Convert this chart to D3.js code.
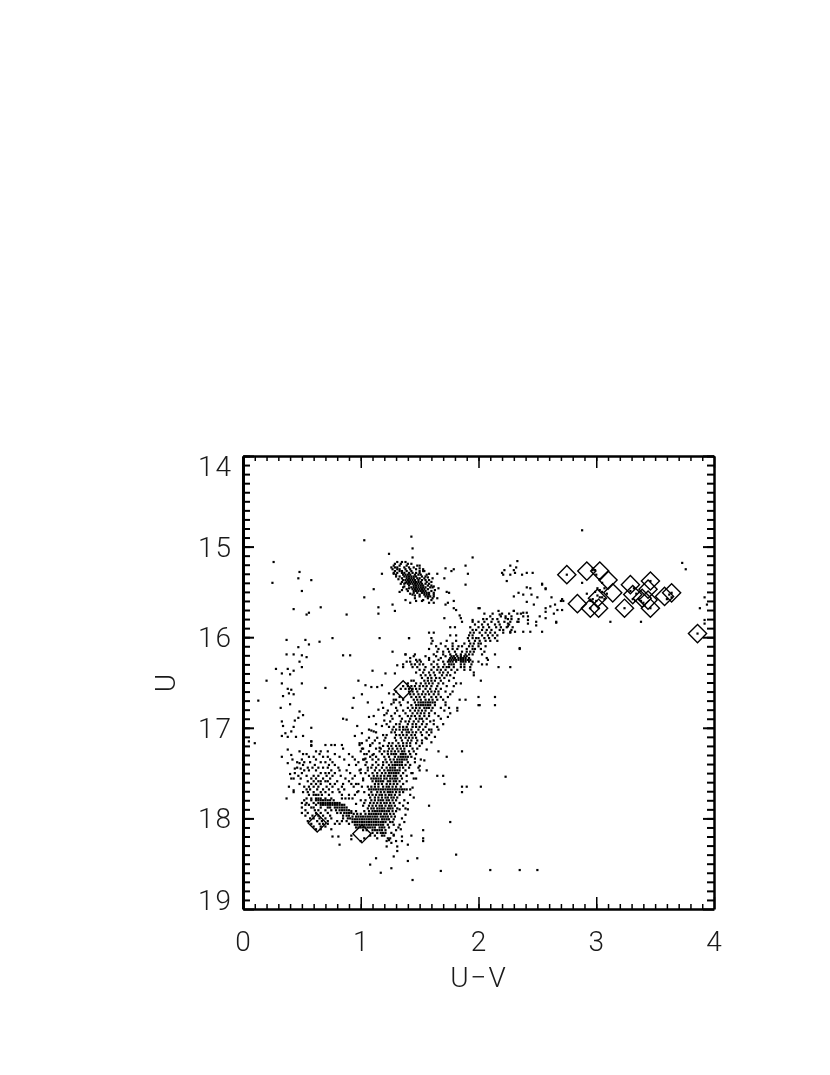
<!DOCTYPE html>
<html>
<head>
<meta charset="utf-8">
<script src="https://cdn.jsdelivr.net/npm/d3@7"></script>
<style>
  html, body { margin: 0; background: #fff; }
  svg { display: block; filter: blur(0.35px); }
  text { font-family: Roboto, sans-serif; font-weight: 300; fill: #1a1a1a; }
</style>
</head>
<body>
<div id="chart"></div>
<script>
// tick values
const xMajor = [0, 1, 2, 3, 4];
const yMajor = [14, 15, 16, 17, 18, 19];

// rows: first number is U, the rest are the U-V colours of the stars on that row
const clumpRows = [
  [15.17,1.31,1.35,1.38],
  [15.19,1.29,1.34,1.40,1.43],
  [15.21,1.28,1.33,1.39,1.48,1.50],
  [15.23,1.26,1.29,1.31,1.37,1.41,1.45],
  [15.25,1.27,1.31,1.33,1.38,1.42,1.47],
  [15.27,1.29,1.33,1.35,1.39,1.43,1.50,1.53],
  [15.29,1.28,1.31,1.35,1.37,1.41,1.44,1.47,1.50],
  [15.31,1.30,1.36,1.38,1.40,1.42,1.46,1.49,1.51],
  [15.33,1.33,1.37,1.39,1.41,1.43,1.45,1.47,1.52],
  [15.35,1.35,1.39,1.41,1.43,1.45,1.48,1.50,1.54],
  [15.37,1.36,1.38,1.40,1.42,1.44,1.46,1.49,1.52,1.55],
  [15.39,1.35,1.39,1.41,1.43,1.45,1.47,1.49,1.51,1.56],
  [15.41,1.37,1.40,1.42,1.44,1.46,1.48,1.50,1.52,1.55,1.58],
  [15.43,1.41,1.45,1.47,1.49,1.51,1.53,1.57,1.60],
  [15.45,1.36,1.43,1.45,1.47,1.49,1.51,1.53,1.55,1.59,1.61],
  [15.47,1.44,1.46,1.48,1.50,1.52,1.54,1.57],
  [15.49,1.40,1.45,1.47,1.49,1.51,1.53,1.55,1.60],
  [15.51,1.45,1.48,1.52,1.54,1.56,1.58],
  [15.53,1.44,1.50,1.54,1.56,1.58,1.62],
  [15.55,1.50,1.55,1.57,1.59,1.62],
  [15.57,1.46,1.57,1.61],
  [15.59,1.38,1.53,1.60],
  [15.62,1.42,1.58,1.62]
];

// edges of the clump, away from the densest ridge, as [U-V, U]
const clumpEdgeStars = [
  [1.50,15.24],[1.54,15.27],[1.56,15.31],[1.57,15.34],[1.58,15.37],[1.60,15.39],[1.62,15.44],[1.63,15.48],
  [1.62,15.51],[1.53,15.25],[1.55,15.33],[1.32,15.36],[1.34,15.41],[1.37,15.44],[1.39,15.47],[1.42,15.52],
  [1.46,15.54],[1.30,15.33],[1.41,15.46],[1.38,15.40],[1.58,15.30],[1.35,15.48],[1.28,15.30],[1.61,15.35],
  [1.66,15.46],[1.52,15.60],[1.47,15.60],[1.33,15.50]
];

const giantRows = [
  [15.68,2.01],
  [15.71,2.17,2.30],
  [15.74,2.05,2.12,2.20,2.26,2.33,2.36],
  [15.77,2.10,2.19,2.23,2.28,2.38],
  [15.80,2.04,2.07,2.12,2.16,2.25,2.28,2.34],
  [15.83,1.86,1.95,2.00,2.05,2.11,2.17,2.22,2.27,2.33],
  [15.86,1.97,2.03,2.08,2.14,2.18,2.26],
  [15.89,1.76,1.80,1.93,2.00,2.04,2.09,2.15,2.19,2.24,2.29],
  [15.92,1.95,1.98,2.03,2.07,2.11,2.18,2.21,2.28],
  [15.95,1.58,1.62,1.93,1.96,2.01,2.06,2.10,2.14,2.21,2.27],
  [15.98,1.76,1.81,1.92,1.95,2.03,2.08,2.12,2.16],
  [16.01,1.41,1.60,1.91,1.95,1.98,2.00,2.05,2.09,2.14],
  [16.04,1.61,1.73,1.81,1.92,1.97,2.01,2.06,2.10,2.16],
  [16.07,1.60,1.68,1.78,1.88,1.93,1.96,2.00,2.02],
  [16.10,1.64,1.72,1.78,1.83,1.86,1.92,1.95,2.00,2.06],
  [16.13,1.58,1.66,1.74,1.78,1.82,1.90,1.95,1.97,2.02,2.35],
  [16.16,1.65,1.70,1.75,1.80,1.86,1.90,1.93,1.96,2.05],
  [16.19,1.38,1.46,1.62,1.70,1.76,1.81,1.85,1.89,1.92,1.95,2.03,2.14],
  [16.21,1.45,1.55,1.64,1.72,1.77,1.79,1.82,1.85,1.88,1.90],
  [16.23,1.42,1.58,1.68,1.76,1.78,1.80,1.83,1.85,1.87,1.89,1.92,2.07],
  [16.25,1.47,1.50,1.58,1.66,1.75,1.77,1.79,1.81,1.83,1.85,1.87,1.89,1.91,1.93,2.08],
  [16.27,1.39,1.42,1.48,1.51,1.62,1.70,1.74,1.76,1.78,1.81,1.85,1.87,1.89,1.92,1.95,2.00],
  [16.30,1.36,1.43,1.46,1.50,1.53,1.60,1.65,1.71,1.75,1.77,1.79,1.85,1.88,1.94,2.03,2.07],
  [16.33,1.44,1.48,1.55,1.62,1.66,1.70,1.73,1.75,1.79,1.85,1.88,1.93,2.17,2.27],
  [16.36,1.50,1.54,1.60,1.65,1.68,1.72,1.77,1.82,1.88,1.93],
  [16.39,1.47,1.53,1.58,1.62,1.67,1.70,1.74,1.80,1.96],
  [16.42,1.51,1.55,1.59,1.63,1.69,1.73,1.76,1.96],
  [16.45,1.52,1.57,1.60,1.64,1.67,1.71,1.79],
  [16.48,1.43,1.45,1.54,1.57,1.60,1.63,1.68,1.75,2.02],
  [16.51,1.40,1.47,1.51,1.55,1.58,1.61,1.66,1.70,1.81,1.85],
  [16.54,1.36,1.40,1.43,1.46,1.50,1.53,1.56,1.60,1.65,1.73,1.79],
  [16.57,1.34,1.38,1.41,1.44,1.47,1.50,1.55,1.59,1.64,1.68]
];

const turnoffRows = [
  [16.60,1.30,1.41,1.44,1.48,1.53,1.57,1.60,1.63,1.66,1.72],
  [16.63,1.28,1.42,1.45,1.49,1.52,1.55,1.58,1.62,1.66,1.76],
  [16.66,1.33,1.43,1.47,1.50,1.54,1.60,1.64,1.68,1.74,2.00,2.14],
  [16.69,1.30,1.36,1.45,1.48,1.51,1.55,1.58,1.61,1.65,1.70,1.84,1.89],
  [16.72,1.28,1.33,1.40,1.46,1.49,1.51,1.53,1.55,1.57,1.59,1.61,1.63],
  [16.75,1.34,1.43,1.47,1.49,1.51,1.53,1.55,1.57,1.59,1.63,1.72,2.00,2.01,2.14],
  [16.78,1.30,1.40,1.44,1.47,1.50,1.54,1.56,1.58,1.61,1.68,1.75,1.82],
  [16.81,1.23,1.31,1.36,1.42,1.46,1.49,1.52,1.55,1.60,1.71,1.82],
  [16.84,1.22,1.29,1.38,1.44,1.48,1.51,1.54,1.58,1.76],
  [16.87,1.26,1.33,1.40,1.43,1.46,1.50,1.54,1.58,1.66],
  [16.90,1.27,1.35,1.42,1.47,1.50,1.52,1.56],
  [16.93,1.25,1.34,1.38,1.41,1.45,1.49,1.53,1.59],
  [16.96,1.22,1.30,1.33,1.40,1.44,1.47,1.52,1.56,1.62],
  [16.99,1.24,1.28,1.33,1.36,1.39,1.44,1.47,1.50,1.55,1.65],
  [17.02,1.27,1.30,1.33,1.36,1.38,1.40,1.43,1.49,1.53,1.60,1.66],
  [17.05,1.13,1.26,1.29,1.35,1.39,1.41,1.44,1.47,1.51,1.56,1.60],
  [17.08,1.19,1.30,1.33,1.36,1.39,1.43,1.46,1.52,1.58],
  [17.11,1.07,1.14,1.21,1.29,1.34,1.38,1.41,1.44,1.47,1.55],
  [17.14,1.05,1.12,1.20,1.30,1.35,1.40,1.43,1.48,1.52],
  [17.17,1.01,1.10,1.16,1.24,1.27,1.32,1.36,1.39,1.42,1.47,1.52],
  [17.20,1.08,1.19,1.23,1.26,1.30,1.33,1.36,1.39,1.42,1.50],
  [17.23,1.13,1.17,1.24,1.27,1.31,1.34,1.37,1.44,1.48],
  [17.26,1.00,1.07,1.16,1.20,1.23,1.26,1.29,1.32,1.35,1.37,1.41,1.45,1.66,1.86],
  [17.29,1.03,1.11,1.18,1.23,1.26,1.28,1.30,1.34,1.36,1.38,1.42,1.47],
  [17.32,1.08,1.13,1.20,1.24,1.29,1.32,1.34,1.36,1.38,1.40,1.43,1.73],
  [17.35,1.02,1.10,1.15,1.21,1.25,1.28,1.31,1.33,1.35,1.37,1.39,1.51],
  [17.38,1.05,1.13,1.19,1.22,1.26,1.29,1.31,1.33,1.35,1.40,1.46],
  [17.41,1.10,1.15,1.19,1.24,1.27,1.29,1.31,1.33,1.35,1.38,1.42],
  [17.44,1.09,1.13,1.18,1.22,1.25,1.27,1.29,1.33,1.36,1.41,1.49],
  [17.47,1.06,1.12,1.16,1.20,1.23,1.25,1.27,1.29,1.31,1.33,1.38,1.50,1.56],
  [17.50,1.04,1.10,1.14,1.18,1.21,1.24,1.26,1.28,1.30,1.32,1.36,1.44],
  [17.53,1.07,1.11,1.14,1.17,1.20,1.23,1.25,1.28,1.30,1.34,1.39,1.65,1.70],
  [17.56,1.09,1.11,1.13,1.15,1.17,1.20,1.22,1.25,1.27,1.29,1.31,1.35,1.45],
  [17.59,1.10,1.13,1.15,1.17,1.19,1.23,1.25,1.28,1.30,1.33,1.39],
  [17.62,1.12,1.15,1.18,1.22,1.25,1.28,1.31,1.36,1.71],
  [17.65,1.06,1.09,1.12,1.15,1.19,1.22,1.24,1.27,1.30,1.34,1.86],
  [17.68,1.07,1.09,1.11,1.13,1.15,1.17,1.19,1.21,1.23,1.25,1.27,1.29,1.31,1.33,1.35,1.37,1.39,1.42],
  [17.71,1.03,1.09,1.14,1.17,1.20,1.23,1.25,1.27,1.30,1.33,1.36,1.86],
  [17.74,1.07,1.10,1.13,1.16,1.18,1.21,1.24,1.26,1.29,1.33],
  [17.77,1.08,1.12,1.15,1.18,1.21,1.23,1.26,1.28,1.31,1.45],
  [17.80,1.00,1.04,1.09,1.12,1.15,1.17,1.19,1.22,1.24,1.27,1.30,1.37],
  [17.83,1.03,1.08,1.11,1.14,1.17,1.20,1.22,1.25,1.28,1.33,1.40],
  [17.86,1.02,1.07,1.10,1.13,1.16,1.18,1.21,1.24,1.26,1.29,1.58],
  [17.89,1.06,1.09,1.11,1.14,1.16,1.18,1.20,1.23,1.25,1.27,1.31,1.38],
  [17.92,0.92,0.96,1.03,1.07,1.10,1.12,1.14,1.16,1.18,1.20,1.22,1.24,1.27,1.30],
  [17.95,0.94,0.97,1.00,1.04,1.07,1.09,1.11,1.13,1.15,1.17,1.20,1.22,1.25,1.28],
  [17.98,0.93,0.96,0.98,1.00,1.02,1.04,1.06,1.08,1.10,1.12,1.14,1.17,1.19,1.21,1.23,1.26,1.29],
  [18.01,0.93,0.95,0.97,0.99,1.01,1.03,1.05,1.07,1.09,1.11,1.13,1.15,1.18,1.20,1.22,1.24,1.28],
  [18.04,0.93,0.95,0.97,0.99,1.01,1.03,1.05,1.07,1.09,1.11,1.13,1.15,1.17,1.19,1.21,1.25,1.27,1.37,1.76],
  [18.07,0.95,0.97,0.99,1.01,1.03,1.05,1.07,1.09,1.11,1.13,1.15,1.17,1.19,1.23,1.28,1.33],
  [18.10,0.96,0.98,1.00,1.02,1.04,1.06,1.08,1.10,1.12,1.16,1.18,1.20,1.24,1.32],
  [18.13,1.02,1.05,1.10,1.12,1.14,1.16,1.18,1.21,1.30,1.53],
  [18.16,1.10,1.14,1.17,1.19,1.21,1.26],
  [18.19,0.92,1.08,1.12,1.18,1.20,1.28,1.43],
  [18.22,1.03,1.14,1.23,1.25,1.53],
  [18.25,1.00,1.22,1.30,1.35]
];

// loose stars either side of the turnoff, as [U-V, U]
const turnoffEdgeStars = [
  [1.24,16.62],[1.26,16.74],[1.20,16.92],[1.18,16.98],[1.22,17.08],[1.16,17.22],[1.10,17.30],[1.06,17.44],
  [1.02,17.58],[0.98,17.70],[0.96,17.84],[1.18,16.72],[1.15,16.80],[1.13,16.96],[1.09,17.03],[1.04,17.34],
  [1.00,17.46],[0.96,17.62],[1.68,16.90],[1.70,16.96],[1.63,17.10],[1.60,17.16],[1.56,17.24],[1.54,17.36],
  [1.50,17.42],[1.47,17.56],[1.44,17.66],[1.42,17.74],[1.40,17.90],[1.38,17.96],[1.35,18.00],[1.33,17.90],
  [1.72,16.72],[1.78,16.60],[1.74,16.88],[1.63,16.84],[1.62,16.92],[1.58,17.02],[1.56,17.12],[1.46,17.34],
  [1.43,17.50],[1.36,17.86],[1.34,18.12],[1.28,18.18],[1.35,18.20]
];

const lowerMsRows = [
  [17.15,0.58],
  [17.19,0.58,0.70,0.75,0.78,0.84,0.99,1.08],
  [17.23,0.85,1.01],
  [17.26,0.48,0.62,0.66,0.72],
  [17.29,0.51,0.54,0.65,0.78,0.90,1.05],
  [17.32,0.56,0.60,0.68,0.72,0.82,0.93],
  [17.35,0.42,0.50,0.62,0.74,0.86,0.95,1.03],
  [17.38,0.46,0.52,0.57,0.66,0.70,0.76,0.98],
  [17.41,0.51,0.61,0.73,0.78,0.90,0.96,1.04],
  [17.44,0.46,0.55,0.59,0.64,0.68,0.72,0.81],
  [17.47,0.52,0.56,0.62,0.75,0.82,0.88,0.99],
  [17.50,0.44,0.50,0.66,0.70,0.73,0.78,0.91,1.00],
  [17.53,0.47,0.54,0.60,0.64,0.71,0.76,0.83,0.95],
  [17.56,0.41,0.49,0.58,0.62,0.68,0.74,0.87,0.93,1.02],
  [17.59,0.55,0.60,0.64,0.66,0.70,0.72,0.80,0.90],
  [17.62,0.48,0.58,0.62,0.66,0.74,0.78,0.85,0.92,0.98],
  [17.65,0.39,0.52,0.56,0.60,0.64,0.71,0.76,0.84,0.94,1.01],
  [17.68,0.54,0.57,0.63,0.68,0.73,0.81,0.86],
  [17.71,0.43,0.51,0.55,0.60,0.66,0.70,0.76,0.82,0.97],
  [17.74,0.56,0.60,0.62,0.64,0.67,0.73,0.84,0.90,0.95],
  [17.78,0.37,0.54,0.58,0.62,0.64,0.66,0.70,0.75,0.84,0.87,0.90,0.93],
  [17.80,0.52,0.58,0.62,0.64,0.66,0.68,0.70,0.72,0.74,0.77],
  [17.83,0.50,0.54,0.60,0.64,0.66,0.68,0.70,0.72,0.74,0.76,0.78,0.80,0.82],
  [17.85,0.53,0.56,0.62,0.66,0.68,0.70,0.72,0.74,0.76,0.78,0.80,0.82,0.84,0.86],
  [17.88,0.50,0.58,0.60,0.66,0.72,0.74,0.78,0.80,0.82,0.84,0.86,0.88],
  [17.91,0.53,0.61,0.64,0.70,0.75,0.79,0.82,0.84,0.86,0.88,0.90],
  [17.94,0.50,0.55,0.62,0.66,0.72,0.80,0.83,0.86,0.88,0.90,0.92],
  [17.97,0.53,0.59,0.64,0.68,0.74,0.85,0.88,0.90],
  [18.00,0.57,0.60,0.65,0.70,0.75,0.85,0.89,0.91],
  [18.03,0.55,0.63,0.67,0.72,0.80,0.84,0.88],
  [18.06,0.58,0.65,0.68,0.72,0.78,0.82,0.90],
  [18.09,0.60,0.66,0.70],
  [18.12,0.62,0.66,0.75]
];

// isolated stars as [U-V, U]
const fieldStars = [
  [1.03,14.93],[0.26,15.17],[0.48,15.28],[0.25,15.40],[0.47,15.35],[0.58,15.37],[0.50,15.49],[0.43,15.69],
  [0.66,15.67],[0.56,15.73],[0.54,15.75],[0.88,15.75],[1.03,15.56],[1.11,15.47],[1.18,15.30],[1.24,15.08],
  [1.43,14.89],[1.44,15.02],[1.44,15.12],[1.15,15.67],[1.15,15.74],[1.27,15.64],[1.29,15.71],[0.37,16.03],
  [0.53,16.03],[0.56,16.08],[0.65,16.05],[0.76,16.01],[0.47,16.11],[0.37,16.19],[0.43,16.19],[0.50,16.20],
  [0.54,16.22],[0.48,16.27],[0.50,16.33],[0.85,16.20],[0.91,16.20],[0.28,16.35],[0.33,16.40],[0.38,16.35],
  [0.40,16.41],[0.43,16.37],[0.20,16.48],[0.33,16.51],[0.50,16.51],[0.98,16.48],[1.10,16.37],[1.21,16.40],
  [1.16,16.01],[1.41,16.01],[1.27,16.16],[1.38,16.19],[1.31,16.31],[1.36,16.33],[1.29,16.40],
  [1.72,15.24],[1.77,15.27],[1.79,15.25],[1.89,15.21],[1.91,15.30],[1.95,15.12],[1.89,15.42],[1.71,15.35],
  [1.65,15.30],[1.73,15.50],[1.75,15.51],[1.65,15.57],[1.79,15.60],[1.74,15.62],[1.72,15.64],[1.79,15.68],
  [1.81,15.70],[1.84,15.76],[1.85,15.79],[1.71,15.79],[1.95,15.81],[2.00,15.68],
  [2.20,15.29],[2.22,15.26],[2.21,15.31],[2.32,15.23],[2.30,15.26],[2.31,15.29],[2.27,15.31],[2.37,15.31],
  [2.41,15.29],[2.46,15.29],[2.24,15.38],[2.41,15.45],[2.44,15.46],[2.54,15.41],[2.57,15.46],[2.45,15.53],
  [2.38,15.53],[2.34,15.51],[2.30,15.55],[2.50,15.56],[2.62,15.56],[2.71,15.58],[2.72,15.60],[2.70,15.60],
  [2.41,15.61],[2.47,15.64],[2.65,15.64],[2.61,15.66],[2.57,15.68],[2.57,15.72],[2.67,15.70],[2.64,15.74],
  [2.71,15.70],[2.66,15.84],[2.18,15.75],[2.30,15.71],[2.38,15.73],[2.41,15.73],[2.52,15.77],[2.57,15.79],
  [2.42,15.77],[2.42,15.81],[2.42,15.85],[2.49,15.83],[2.49,15.87],[2.54,15.94],[2.44,15.94],[2.38,15.94],
  [2.34,15.83],[2.23,15.79],[2.25,15.85],[2.25,15.88],[2.27,15.94],[2.31,15.94],[2.35,16.12],[2.54,15.42],
  [2.57,15.47],[2.66,15.83],[2.27,15.21],[2.33,15.16],
  [0.38,16.57],[0.41,16.58],[0.43,16.63],[0.39,16.62],[0.34,16.65],[0.40,16.74],[0.32,16.78],[0.13,16.70],
  [0.70,16.56],[0.48,16.82],[0.51,16.86],[0.47,16.89],[0.44,16.92],[0.33,16.93],[0.34,16.98],[0.43,16.99],
  [0.58,17.00],[0.41,17.04],[0.36,17.06],[0.33,17.09],[0.38,17.10],[0.51,17.09],[0.45,17.10],[0.05,17.15],
  [0.10,17.17],[0.58,17.15],[0.58,17.20],[0.38,17.24],[0.33,17.32],[0.41,17.30],[0.38,17.39],[0.48,17.39],
  [0.49,17.45],[0.44,17.45],[0.85,16.90],[0.88,16.91],[0.93,16.78],[0.94,16.67],[1.01,16.63],[1.06,16.72],
  [0.97,16.98],[0.95,17.09],[1.01,17.06],[1.07,17.02],[1.11,17.04],[1.11,16.87],[1.07,16.88],[1.19,16.78],
  [1.20,16.86],[1.04,16.53],[1.09,16.55],[1.14,16.55],[1.18,16.53],[1.28,16.69],[0.99,17.17],[1.02,17.23],
  [1.24,18.24],[1.26,18.27],[1.22,18.31],[1.31,18.31],[1.31,18.36],[1.40,18.29],[1.53,18.25],[1.28,18.42],
  [1.13,18.44],[1.08,18.51],[1.17,18.60],[1.26,18.55],[1.40,18.47],[1.48,18.44],[1.44,18.68],[1.68,18.58],
  [1.81,18.40],[0.82,18.29],[0.81,18.20],[0.76,18.20],[0.92,18.23],[0.40,17.51],[0.43,17.56],[0.43,17.69],
  [2.10,18.57],[2.35,18.57],[2.50,18.57],[2.23,17.54],[2.02,17.65],[1.90,17.65],
  [3.73,15.18],[3.76,15.25],[3.92,15.56],[3.94,15.64],[3.88,15.68],[3.92,15.81],[3.92,15.85],[2.88,14.82],
  [3.12,15.83],[3.38,15.83],[2.92,15.52],[2.88,15.40]
];

// stars sitting inside the diamonds
const diamondCoreStars = [
  [2.75,15.31],[2.97,15.24],[2.97,15.26],[2.99,15.26],[3.00,15.31],[3.03,15.36],[3.05,15.40],[3.01,15.46],
  [2.99,15.50],[3.03,15.48],[3.05,15.50],[3.07,15.46],[3.09,15.52],[3.01,15.54],[3.03,15.56],[3.05,15.56],
  [3.07,15.58],[2.97,15.58],[2.95,15.60],[3.00,15.60],[2.95,15.68],[3.02,15.68],[3.24,15.68],[3.29,15.49],
  [3.32,15.46],[3.34,15.52],[3.36,15.58],[3.38,15.60],[3.40,15.62],[3.41,15.65],[3.31,15.58],[3.33,15.60],
  [3.46,15.38],[3.46,15.68],[3.60,15.58],[3.62,15.53],[3.64,15.56],[3.64,15.51],[3.86,15.96]
];

// U-V, U of the diamond markers
const diamondStars = [
  [2.75,15.31],[2.92,15.27],[3.03,15.27],[3.10,15.37],[3.14,15.51],[3.01,15.57],[2.84,15.63],[2.95,15.68],
  [3.02,15.68],[3.24,15.68],[3.29,15.42],[3.31,15.53],[3.39,15.57],[3.46,15.38],[3.44,15.47],[3.46,15.68],
  [3.44,15.59],[3.64,15.51],[3.58,15.55],[3.86,15.96],[1.01,18.17],[1.36,16.58],[0.63,18.05]
];

const rowsToStars = rows => rows.flatMap(([u, ...colours]) => colours.map(c => [c, u]));
const stars = [clumpRows, giantRows, turnoffRows, lowerMsRows].flatMap(rowsToStars)
  .concat(clumpEdgeStars, turnoffEdgeStars, fieldStars, diamondCoreStars);

const width = 830, height = 1075;
const plotLeft = 243, plotRight = 714, plotTop = 456, plotBottom = 909;
const starSize = 2.2;

const x = d3.scaleLinear().domain([0, 4]).range([plotLeft, plotRight]);
const y = d3.scaleLinear().domain([14, 19]).range([plotTop, plotBottom]);

const svg = d3.select("#chart").append("svg").attr("width", width).attr("height", height);

// stars
svg.append("g")
  .selectAll("rect")
  .data(stars)
  .join("rect")
  .attr("x", d => x(d[0]) - starSize / 2)
  .attr("y", d => y(d[1]) - starSize / 2)
  .attr("width", starSize)
  .attr("height", starSize)
  .attr("fill", "#000");

// diamonds are squares from d3.symbol turned by 45 degrees
const diamond = d3.symbol().type(d3.symbolSquare).size(165);
svg.append("g")
  .selectAll("path")
  .data(diamondStars)
  .join("path")
  .attr("d", diamond)
  .attr("transform", d => `translate(${x(d[0])},${y(d[1])}) rotate(45)`)
  .attr("fill", "none")
  .attr("stroke", "#000")
  .attr("stroke-width", 1.4);

const minorX = d3.range(0, 40).map(i => i / 10);
const minorY = d3.range(0, 50).map(i => 14 + i / 10);

// ticks point into the frame on all four sides
function drawAxis(axisFn, scale, translate, major, minor, majorLen, minorLen, tickWidth, frameWidth) {
  const g = svg.append("g").attr("transform", translate);
  g.call(axisFn(scale).tickValues(minor).tickSize(-minorLen).tickSizeOuter(0).tickFormat(""));
  g.selectAll(".tick line").attr("stroke", "#000").attr("stroke-width", tickWidth);
  g.select(".domain").attr("stroke", "#000").attr("stroke-width", frameWidth);
  const m = svg.append("g").attr("transform", translate);
  m.call(axisFn(scale).tickValues(major).tickSize(-majorLen).tickSizeOuter(0).tickFormat(""));
  m.selectAll(".tick line").attr("stroke", "#000").attr("stroke-width", tickWidth);
  m.select(".domain").remove();
}

drawAxis(d3.axisBottom, x, `translate(0,${plotBottom})`, xMajor, minorX, 12, 5, 1.5, 2.5);
drawAxis(d3.axisTop, x, `translate(0,${plotTop})`, xMajor, minorX, 12, 5, 1.5, 2.5);
drawAxis(d3.axisLeft, y, `translate(${plotLeft},0)`, yMajor, minorY, 11, 7, 2, 3);
drawAxis(d3.axisRight, y, `translate(${plotRight},0)`, yMajor, minorY, 11, 7, 2, 2.5);

// tick labels, 14 and 19 are pushed inward as in the plot
svg.append("g")
  .selectAll("text")
  .data(xMajor)
  .join("text")
  .attr("x", d => x(d))
  .attr("y", 951)
  .attr("text-anchor", "middle")
  .attr("font-size", 28)
  .text(d => d);

const yLabelShift = { 14: 10, 19: -9 };
svg.append("g")
  .selectAll("text")
  .data(yMajor)
  .join("text")
  .attr("x", 233)
  .attr("y", d => y(d) + 10 + (yLabelShift[d] || 0))
  .attr("text-anchor", "end")
  .attr("font-size", 28)
  .attr("letter-spacing", 2)
  .text(d => d);

svg.append("text")
  .attr("x", 479)
  .attr("y", 987)
  .attr("text-anchor", "middle")
  .attr("font-size", 28)
  .attr("letter-spacing", 2)
  .text("U\u2212V");

svg.append("text")
  .attr("transform", "translate(175,683) rotate(-90)")
  .attr("text-anchor", "middle")
  .attr("font-size", 28)
  .text("U");
</script>
</body>
</html>
